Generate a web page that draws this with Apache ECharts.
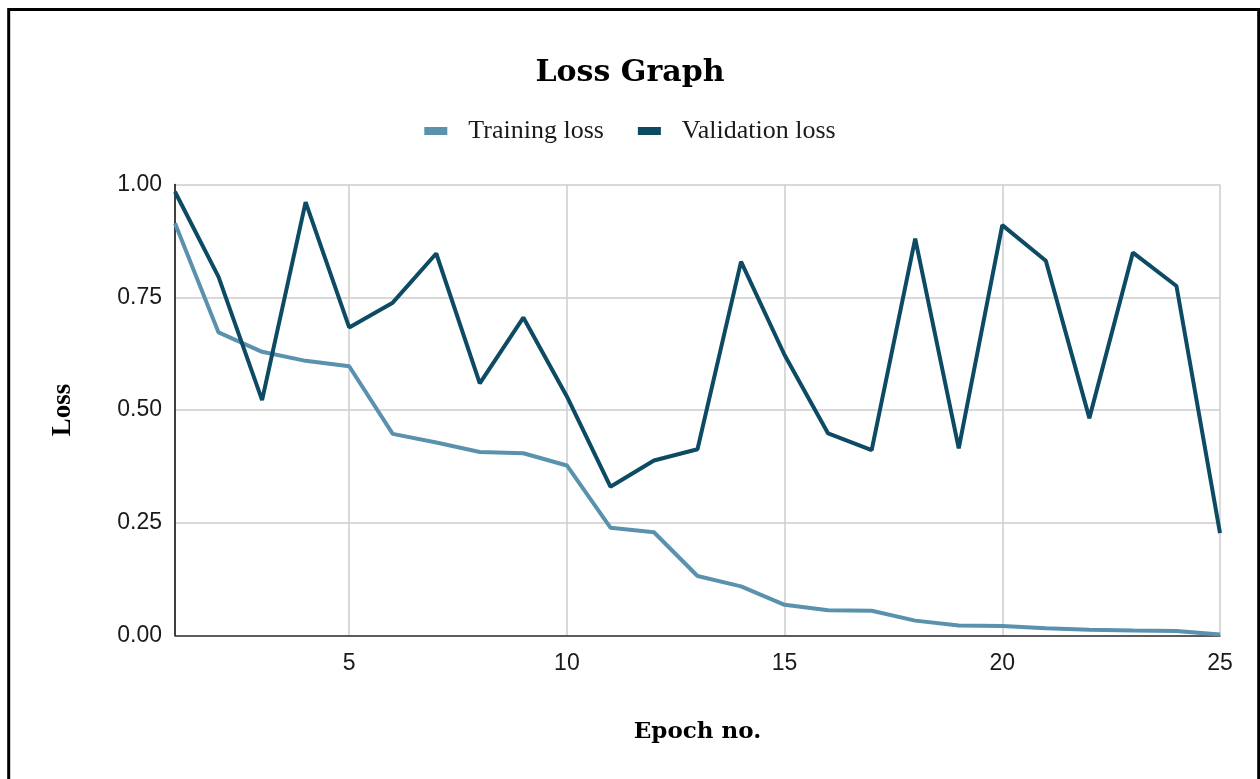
<!DOCTYPE html>
<html>
<head>
<meta charset="utf-8">
<script src="https://cdn.jsdelivr.net/npm/echarts@6/dist/echarts.min.js"></script>
<style>
  html, body { margin: 0; padding: 0; background: #fff; }
  #chart { width: 1260px; height: 779px; }
</style>
</head>
<body>
<div id="chart"></div>
<script>
const epochs = [1,2,3,4,5,6,7,8,9,10,11,12,13,14,15,16,17,18,19,20,21,22,23,24,25];
const trainingLoss = [0.914,0.672,0.629,0.609,0.597,0.447,0.428,0.407,0.404,0.377,0.239,0.229,0.132,0.109,0.068,0.056,0.055,0.033,0.022,0.021,0.016,0.013,0.011,0.010,0.002];
const validationLoss = [0.984,0.795,0.522,0.961,0.683,0.738,0.847,0.559,0.705,0.530,0.330,0.388,0.413,0.829,0.622,0.448,0.411,0.880,0.415,0.910,0.831,0.482,0.849,0.775,0.227];
const xTicks = [5,10,15,20,25];
const yTicks = [0,0.25,0.5,0.75,1];

const chart = echarts.init(document.getElementById('chart'), null, {renderer: 'canvas'});
const toPairs = arr => epochs.map((e, i) => [e, arr[i]]);

chart.setOption({
  animation: false,
  backgroundColor: '#ffffff',
  graphic: [{
    type: 'rect', silent: true, z: 100,
    shape: { x: 8.7, y: 9.5, width: 1250, height: 820 },
    style: { fill: 'none', stroke: '#000', lineWidth: 3 }
  }],
  title: {
    text: 'Loss Graph', left: 'center', top: 53,
    textStyle: { fontFamily: 'DejaVu Serif', fontWeight: 'bold', fontSize: 30, color: '#000' }
  },
  legend: {
    top: 113, left: 'center',
    itemWidth: 23, itemHeight: 8, itemGap: 34,
    icon: 'rect',
    textStyle: { fontFamily: 'Liberation Serif', fontSize: 26, color: '#1a1a1a', padding: [0,0,0,16] },
    data: ['Training loss', 'Validation loss']
  },
  grid: { left: 175, right: 40, top: 184.5, bottom: 143.5, containLabel: false },
  xAxis: {
    type: 'value', min: 1, max: 25,
    name: 'Epoch no.', nameLocation: 'middle', nameGap: 85,
    nameTextStyle: { fontFamily: 'DejaVu Serif', fontWeight: 'bold', fontSize: 23, color: '#000' },
    axisLine: { show: true, onZero: false, lineStyle: { color: '#333', width: 1.5 } },
    axisTick: { show: false, customValues: xTicks },
    axisLabel: { customValues: xTicks, margin: 17, fontFamily: 'Liberation Sans', fontSize: 23, color: '#1a1a1a' },
    splitLine: { show: true, lineStyle: { color: '#cccccc', width: 1.5 } }
  },
  yAxis: {
    type: 'value', min: 0, max: 1, interval: 0.25,
    name: 'Loss', nameLocation: 'middle', nameGap: 98, nameRotate: 90,
    nameTextStyle: { fontFamily: 'Liberation Serif', fontWeight: 'bold', fontSize: 27, color: '#000' },
    axisLine: { show: true, lineStyle: { color: '#000', width: 1.5 } },
    axisTick: { show: false },
    axisLabel: { margin: 13, fontFamily: 'Liberation Sans', fontSize: 23, color: '#1a1a1a',
      formatter: v => v.toFixed(2) },
    splitLine: { show: true, lineStyle: { color: '#cccccc', width: 1.5 } }
  },
  series: [
    {
      name: 'Training loss', type: 'line', data: toPairs(trainingLoss),
      showSymbol: false, symbol: 'none',
      lineStyle: { color: '#5a92ad', width: 4 }, itemStyle: { color: '#5a92ad' }
    },
    {
      name: 'Validation loss', type: 'line', data: toPairs(validationLoss),
      showSymbol: false, symbol: 'none',
      lineStyle: { color: '#0d4a63', width: 4 }, itemStyle: { color: '#0d4a63' }
    }
  ]
});
</script>
</body>
</html>
